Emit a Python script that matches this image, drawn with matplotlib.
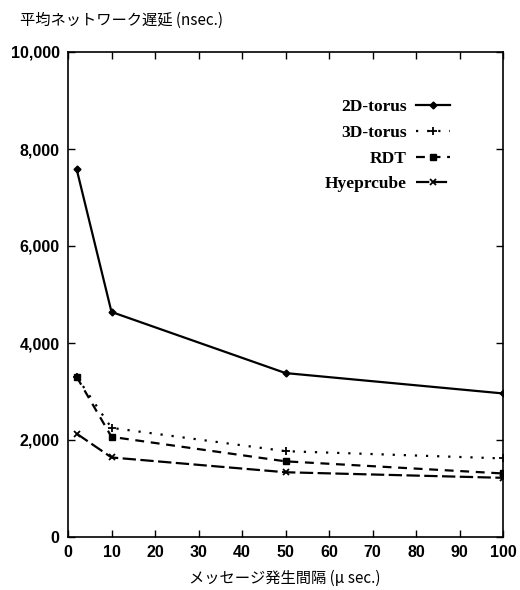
import matplotlib

matplotlib.use("Agg")

import matplotlib.pyplot as plt
from matplotlib.ticker import FuncFormatter, MultipleLocator

plt.rcParams["font.family"] = ["Liberation Sans", "Noto Sans CJK JP"]

interval = [2, 10, 50, 100]
torus2d = [7580, 4640, 3380, 2960]
torus3d = [3300, 2250, 1770, 1620]
rdt = [3300, 2065, 1560, 1310]
hypercube = [2130, 1640, 1335, 1220]

fig = plt.figure(figsize=(5.2, 5.9), dpi=100)
ax = fig.add_axes([68 / 520, 1 - 537 / 590, 435 / 520, 485 / 590])

ax.plot(interval, torus2d, color="black", lw=1.6, ls="-", marker="D", ms=3.5,
        label="2D-torus")
ax.plot(interval, torus3d, color="black", lw=1.6, ls=(0, (1, 4)), marker="+",
        ms=6, mew=1.3, label="3D-torus")
ax.plot(interval, rdt, color="black", lw=1.6, ls=(0, (4, 3)), marker="s",
        ms=5, label="RDT")
ax.plot(interval, hypercube, color="black", lw=1.6, ls=(0, (6, 2)), marker="x",
        ms=5, mew=1.3, label="Hyeprcube")

ax.set_xlim(0, 100)
ax.set_ylim(0, 10000)
ax.xaxis.set_major_locator(MultipleLocator(10))
ax.yaxis.set_major_locator(MultipleLocator(2000))
ax.yaxis.set_major_formatter(FuncFormatter(lambda v, p: f"{int(v):,}"))
ax.tick_params(direction="in", top=True, right=True, length=5, width=1,
               labelsize=11.5, pad=6)
for lab in ax.get_xticklabels() + ax.get_yticklabels():
    lab.set_fontweight("bold")
for s in ax.spines.values():
    s.set_linewidth(1.2)

leg = ax.legend(loc="upper right", bbox_to_anchor=(0.915, 0.935), frameon=False,
                markerfirst=False, handlelength=2.0, handletextpad=0.5,
                labelspacing=0.55,
                prop={"family": "Liberation Serif", "weight": "bold", "size": 12.5})

fig.text(20 / 520, 1 - 20 / 590, "平均ネットワーク遅延 (nsec.)",
         ha="left", va="center", fontsize=11,
         family=["Noto Sans CJK JP", "DejaVu Sans"])
fig.text(285 / 520, 1 - 578 / 590, "メッセージ発生間隔 (μ sec.)",
         ha="center", va="center", fontsize=11,
         family=["Noto Sans CJK JP", "DejaVu Sans"])

fig.savefig("out.png", dpi=100)
